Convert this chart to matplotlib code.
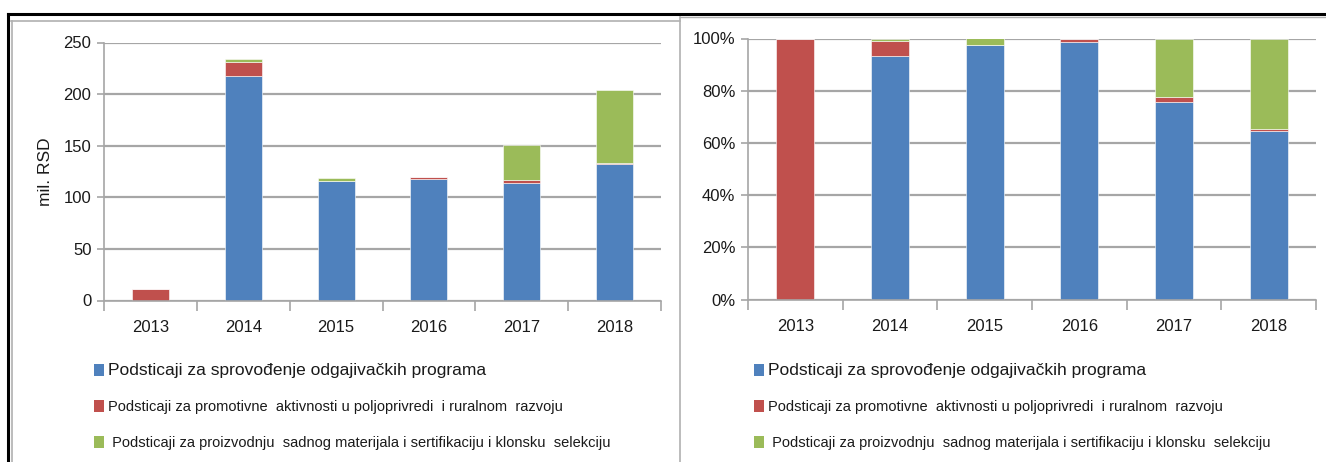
import numpy as np
import matplotlib
matplotlib.use("Agg")
import matplotlib.pyplot as plt
from matplotlib.lines import Line2D
from matplotlib.patches import Patch
from matplotlib.ticker import FuncFormatter

plt.rcParams['font.family'] = ['Liberation Sans Narrow', 'Liberation Sans', 'DejaVu Sans']

years = ["2013", "2014", "2015", "2016", "2017", "2018"]
# mil. RSD
breeding = [0.0, 218.0, 115.5, 118.2, 113.5, 132.0]
promotion = [11.0, 13.5, 0.0, 1.4, 3.0, 1.6]
seedlings = [0.0, 2.5, 2.8, 0.2, 33.8, 70.4]

series_labels = [
    "Podsticaji za sprovođenje odgajivačkih programa",
    "Podsticaji za promotivne  aktivnosti u poljoprivredi  i ruralnom  razvoju",
    " Podsticaji za proizvodnju  sadnog materijala i sertifikaciju i klonsku  selekciju",
]
colors = ["#4F81BD", "#C0504D", "#9BBB59"]
grid_c = "#A6A6A6"
text_c = "#1a1a1a"

W, H = 1326, 462
fig = plt.figure(figsize=(W / 100, H / 100), dpi=100)


def fx(px):
    return px / W


def fy(py):
    return 1 - py / H


def style_axes(ax):
    x = np.arange(len(years))
    ax.set_xlim(-0.5, len(years) - 0.5)
    ax.set_xticks(x)
    ax.set_xticklabels(years, fontsize=12, color=text_c)
    ax.set_xticks(np.arange(len(years) + 1) - 0.5, minor=True)
    ax.tick_params(axis='x', which='major', length=0, pad=14)
    ax.tick_params(axis='x', which='minor', length=7, color=grid_c, width=1.2)
    ax.tick_params(axis='y', length=5, color=grid_c, width=1.2, labelsize=12, labelcolor=text_c, pad=4)
    for s in ['top', 'right']:
        ax.spines[s].set_visible(False)
    for s in ['left', 'bottom']:
        ax.spines[s].set_color(grid_c)
        ax.spines[s].set_linewidth(1.2)
    ax.yaxis.grid(True, color=grid_c, linewidth=1.6)
    ax.set_axisbelow(True)


def draw_stack(ax, data, width):
    x = np.arange(len(years))
    bottom = np.zeros(len(years))
    for vals, c in zip(data, colors):
        vals = np.asarray(vals)
        ax.bar(x, vals, width, bottom=bottom, color=c, edgecolor='white', linewidth=0.4)
        bottom += vals


# left panel: absolute values
ax1 = fig.add_axes([fx(104), fy(300.5), fx(661 - 104), (300.5 - 42.5) / H])
draw_stack(ax1, [breeding, promotion, seedlings], 0.4)
ax1.set_ylim(0, 250)
ax1.set_yticks([0, 50, 100, 150, 200, 250])
style_axes(ax1)
ax1.set_ylabel("mil. RSD", fontsize=12.5, color=text_c, labelpad=8)

# right panel: shares
data = np.array([breeding, promotion, seedlings])
shares = data / data.sum(axis=0) * 100
ax2 = fig.add_axes([fx(748), fy(299.5), fx(1316 - 748), (299.5 - 38.5) / H])
draw_stack(ax2, shares, 0.4)
ax2.set_ylim(0, 100)
ax2.set_yticks([0, 20, 40, 60, 80, 100])
ax2.yaxis.set_major_formatter(FuncFormatter(lambda v, p: f"{v:.0f}%"))
style_axes(ax2)

# legends
handles = [Patch(facecolor=c, edgecolor='none') for c in colors]
for x0 in (88, 748):
    leg = fig.legend(handles, series_labels, loc='upper left',
                     bbox_to_anchor=(fx(x0), fy(357)), frameon=False,
                     fontsize=10.5, handlelength=0.7, handleheight=0.9,
                     handletextpad=0.25, labelspacing=1.5, borderaxespad=0)
    leg.get_texts()[0].set_fontsize(12.5)
    for t in leg.get_texts():
        t.set_color(text_c)

# frames of the two chart boxes
fig.add_artist(Line2D([fx(8), 1], [fy(14), fy(14)], color='black', linewidth=2.2))
fig.add_artist(Line2D([fx(8), fx(8)], [fy(14), 0], color='black', linewidth=2.2))
fig.add_artist(Line2D([fx(11), fx(680)], [fy(20.5), fy(20.5)], color='#B0B0B0', linewidth=1.2))
fig.add_artist(Line2D([fx(11.5), fx(11.5)], [fy(20.5), 0], color='#B0B0B0', linewidth=1.2))
fig.add_artist(Line2D([fx(680), 1], [fy(17), fy(17)], color='#B0B0B0', linewidth=1.0))
fig.add_artist(Line2D([fx(680), fx(680)], [fy(17), 0], color='#B0B0B0', linewidth=1.2))

fig.savefig("out.png", dpi=100)
